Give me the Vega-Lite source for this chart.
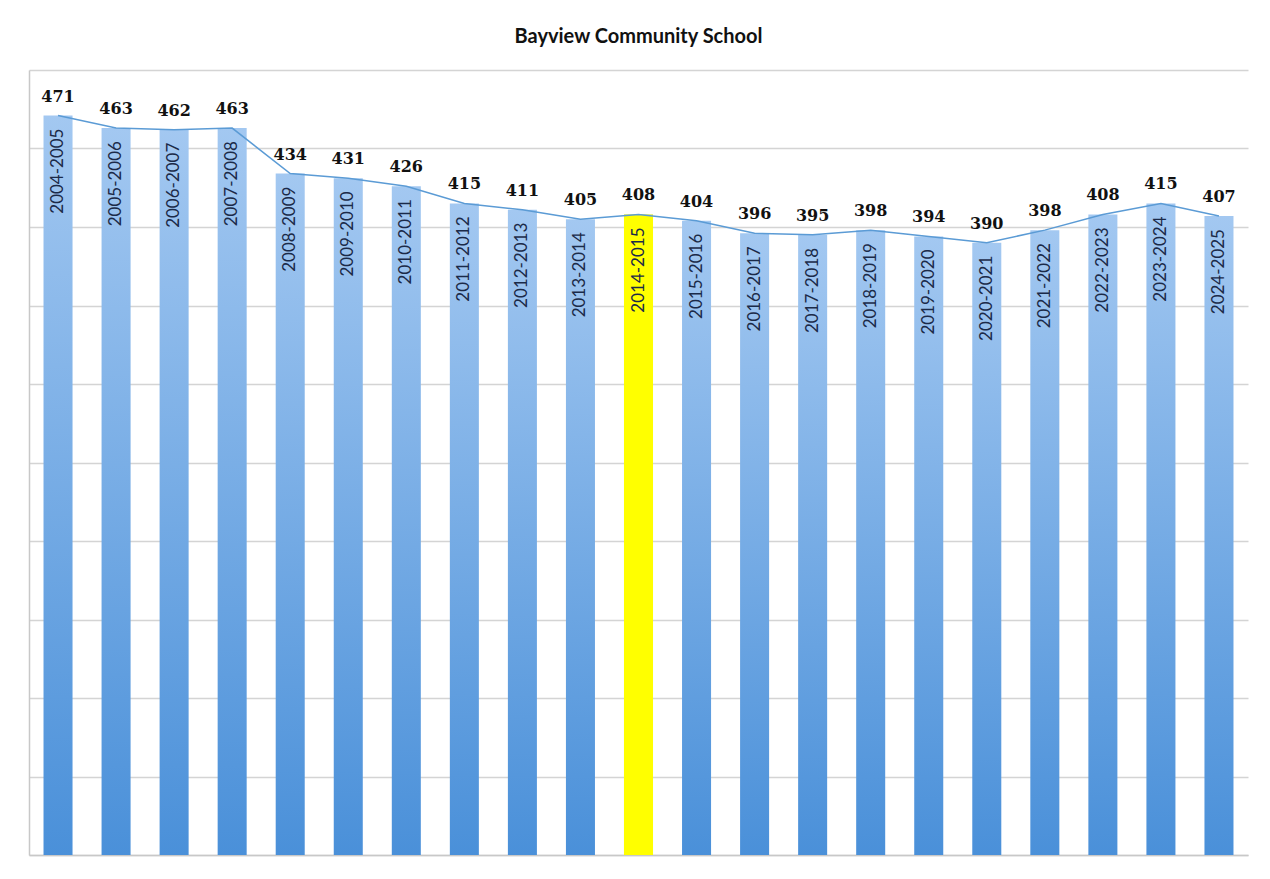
{
  "$schema": "https://vega.github.io/schema/vega-lite/v6.json",
  "width": 1219,
  "height": 785,
  "autosize": "none",
  "padding": {"left": 29, "top": 70, "right": 22, "bottom": 24},
  "background": "white",
  "title": {
    "text": "Bayview Community School",
    "font": "Lato",
    "fontSize": 20,
    "fontWeight": "bold",
    "color": "#111111",
    "anchor": "middle",
    "frame": "group",
    "offset": 23
  },
  "data": {
    "values": [
      {"year": "2004-2005", "students": 471},
      {"year": "2005-2006", "students": 463},
      {"year": "2006-2007", "students": 462},
      {"year": "2007-2008", "students": 463},
      {"year": "2008-2009", "students": 434},
      {"year": "2009-2010", "students": 431},
      {"year": "2010-2011", "students": 426},
      {"year": "2011-2012", "students": 415},
      {"year": "2012-2013", "students": 411},
      {"year": "2013-2014", "students": 405},
      {"year": "2014-2015", "students": 408},
      {"year": "2015-2016", "students": 404},
      {"year": "2016-2017", "students": 396},
      {"year": "2017-2018", "students": 395},
      {"year": "2018-2019", "students": 398},
      {"year": "2019-2020", "students": 394},
      {"year": "2020-2021", "students": 390},
      {"year": "2021-2022", "students": 398},
      {"year": "2022-2023", "students": 408},
      {"year": "2023-2024", "students": 415},
      {"year": "2024-2025", "students": 407}
    ]
  },
  "encoding": {
    "x": {
      "field": "year",
      "type": "nominal",
      "sort": null,
      "scale": {"paddingInner": 0.5, "paddingOuter": 0.25},
      "axis": {"labels": false, "ticks": false, "title": null, "domain": true, "domainColor": "#c8c8c8", "domainWidth": 1.5}
    },
    "y": {
      "field": "students",
      "type": "quantitative",
      "scale": {"domain": [0, 500], "nice": false},
      "axis": {"labels": false, "ticks": false, "title": null, "domain": true, "domainColor": "#c8c8c8", "domainWidth": 1.5, "grid": true, "gridColor": "#d4d4d4", "gridWidth": 1.5, "values": [0, 50, 100, 150, 200, 250, 300, 350, 400, 450, 500]}
    }
  },
  "layer": [
    {
      "mark": {
        "type": "bar",
        "color": {
          "gradient": "linear",
          "x1": 0, "y1": 0, "x2": 0, "y2": 1,
          "stops": [
            {"offset": 0, "color": "#a3c8f1"},
            {"offset": 1, "color": "#4a90d9"}
          ]
        }
      }
    },
    {
      "transform": [{"filter": "datum.year === '2014-2015'"}],
      "mark": {"type": "bar", "color": "#ffff00"}
    },
    {
      "mark": {"type": "line", "color": "#5b9bd5", "strokeWidth": 1.5}
    },
    {
      "mark": {"type": "text", "angle": 270, "align": "right", "baseline": "middle", "dx": -13, "font": "Lato", "fontSize": 17, "color": "#1b2a48"},
      "encoding": {"text": {"field": "year"}}
    },
    {
      "mark": {"type": "text", "align": "center", "baseline": "alphabetic", "dy": -14, "font": "DejaVu Serif", "fontSize": 16, "fontWeight": "bold", "color": "#111111"},
      "encoding": {"text": {"field": "students"}}
    }
  ],
  "config": {
    "view": {"stroke": null}
  }
}
